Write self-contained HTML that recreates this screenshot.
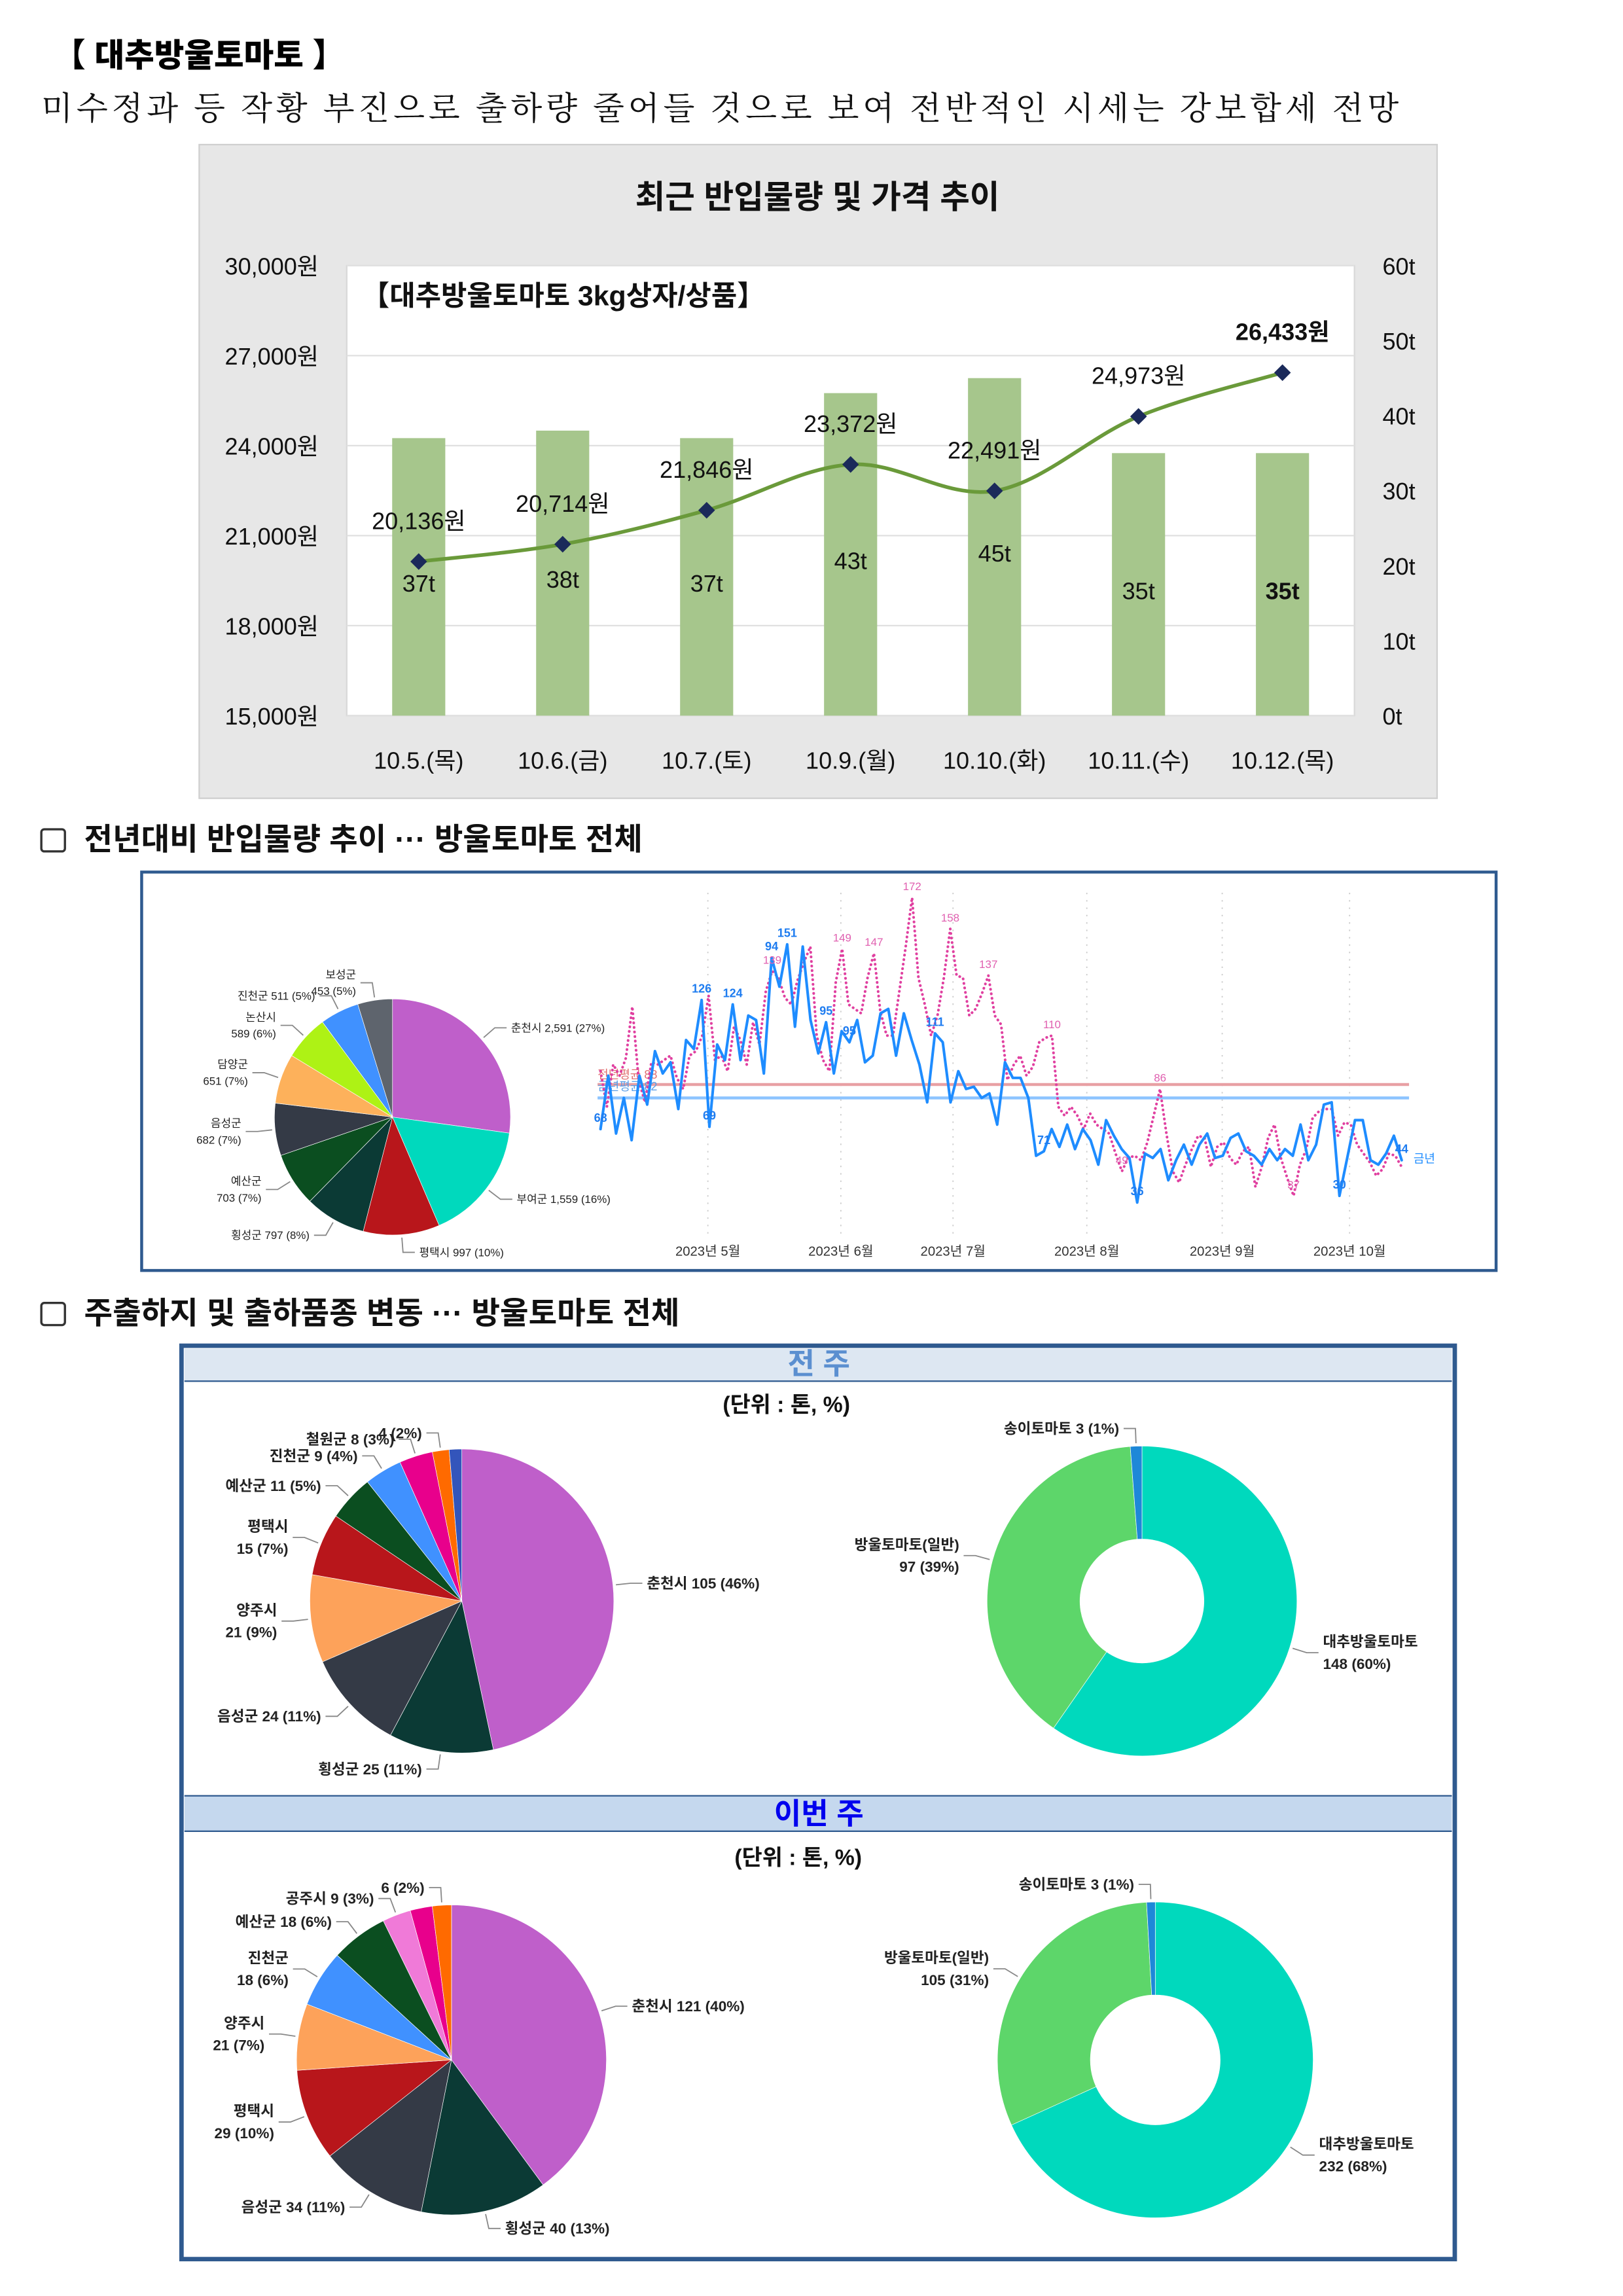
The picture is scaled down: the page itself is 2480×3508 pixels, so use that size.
<!DOCTYPE html>
<html><head><meta charset="utf-8"><style>
html,body{margin:0;padding:0;background:#fff}
svg{display:block}
text{font-family:"Liberation Sans","Noto Sans CJK KR",sans-serif}
.serif{font-family:"Liberation Serif","Noto Serif CJK SC",serif}
</style></head><body>
<svg id="page" xmlns="http://www.w3.org/2000/svg" width="2480" height="3508" viewBox="0 0 1100 1556">
<rect x="0" y="0" width="1100" height="1556" fill="#fff"/>
<text x="36" y="45" font-size="22" font-weight="900" fill="#000">【 대추방울토마토 】</text>
<text class="serif" x="28" y="81" font-size="22" fill="#111" textLength="920" lengthAdjust="spacing">미수정과 등 작황 부진으로 출하량 줄어들 것으로 보여 전반적인 시세는 강보합세 전망</text>

<g id="chart1">
<rect x="135" y="98" width="839" height="443" fill="#e7e7e7" stroke="#cfcfcf"/>
<text x="554" y="141" text-anchor="middle" font-size="22" font-weight="700" fill="#111">최근 반입물량 및 가격 추이</text>
<rect x="235" y="180" width="683" height="305" fill="#fff" stroke="#d9d9d9"/>
<text x="245" y="207" font-size="19" font-weight="700" fill="#111">【대추방울토마토 3kg상자/상품】</text>
</g>

<rect x="28" y="562" width="16" height="15" rx="2" fill="#fff" stroke="#333" stroke-width="1.5"/>
<text x="57" y="576" font-size="21" font-weight="700" fill="#111">전년대비 반입물량 추이 ··· 방울토마토 전체</text>
<rect x="96" y="591" width="918" height="270" fill="#fff" stroke="#2f5a8f" stroke-width="2"/>
<g id="pie1"></g>
<g id="line2"></g>

<rect x="28" y="883" width="16" height="15" rx="2" fill="#fff" stroke="#333" stroke-width="1.5"/>
<text x="57" y="897" font-size="21" font-weight="700" fill="#111">주출하지 및 출하품종 변동 ··· 방울토마토 전체</text>
<rect x="123" y="912" width="863" height="619" fill="#fff" stroke="#2f5a8f" stroke-width="3"/>
<rect x="125" y="914" width="859" height="22" fill="#dde7f2"/>
<line x1="125" y1="936" x2="984" y2="936" stroke="#2f5a8f" stroke-width="1"/>
<text x="555" y="931" text-anchor="middle" font-size="20" font-weight="700" fill="#5b8fd0">전 주</text>
<text x="533" y="957" text-anchor="middle" font-size="15" font-weight="700" fill="#111">(단위 : 톤, %)</text>
<rect x="125" y="1217" width="859" height="24" fill="#c5d8ee"/>
<line x1="125" y1="1217" x2="984" y2="1217" stroke="#2f5a8f" stroke-width="1"/>
<line x1="125" y1="1241" x2="984" y2="1241" stroke="#2f5a8f" stroke-width="1"/>
<text x="555" y="1236" text-anchor="middle" font-size="20" font-weight="700" fill="#0000ee">이번 주</text>
<text x="541" y="1264" text-anchor="middle" font-size="15" font-weight="700" fill="#111">(단위 : 톤, %)</text>
<g id="pie2"></g>
<g id="pie3"></g>
<g id="donut1"></g>
<g id="donut2"></g>
</svg>
<script>
// ---- chart 1 data ----
const c1Categories = ["10.5.(목)","10.6.(금)","10.7.(토)","10.9.(월)","10.10.(화)","10.11.(수)","10.12.(목)"];
const c1Volume = [37,38,37,43,45,35,35];
const c1Price = [20136,20714,21846,23372,22491,24973,26433];
const c1LeftTicks = [15000,18000,21000,24000,27000,30000];
const c1RightTicks = [0,10,20,30,40,50,60];

// ---- pie 1 data ----
const p1Names = ["춘천시","부여군","평택시","횡성군","예산군","음성군","담양군","논산시","진천군","보성군"];
const p1Values = [2591,1559,997,797,703,682,651,589,511,453];
const p1Labels = [["춘천시 2,591 (27%)"],["부여군 1,559 (16%)"],["평택시 997 (10%)"],["횡성군 797 (8%)"],["예산군","703 (7%)"],["음성군","682 (7%)"],["담양군","651 (7%)"],["논산시","589 (6%)"],["진천군 511 (5%)"],["보성군","453 (5%)"]];

// ---- line chart data (daily arrivals, t) ----
const thisYear = [68,92,66,82,63,92,79,103,93,98,77,108,104,126,69,106,99,124,99,119,117,93,145,132,151,114,150,117,102,116,93,112,107,117,98,101,120,122,101,120,108,97,80,111,107,80,94,86,87,82,84,70,98,91,91,82,56,58,68,60,70,59,68,63,52,72,65,59,55,35,57,55,59,45,54,61,52,61,66,55,56,64,66,58,56,52,59,54,59,56,70,54,61,79,80,38,55,72,72,54,52,57,65,54];
const lastYear = [94,78,97,92,100,123,90,80,98,97,99,101,91,86,101,103,110,128,99,101,94,114,108,97,116,106,130,139,136,127,124,135,143,150,110,99,94,134,149,124,122,120,136,147,121,110,110,130,150,172,136,124,110,119,136,158,137,136,119,122,129,137,119,115,90,97,101,92,96,107,109,110,78,74,78,74,68,75,70,68,66,57,49,55,56,54,62,74,86,66,49,44,52,59,65,64,51,60,62,55,52,58,60,42,51,64,70,55,46,38,52,59,73,76,77,77,65,71,70,61,57,53,47,50,57,56,51];
const avgLast = 88, avgThis = 82;
const monthLabels = ["2023년 5월","2023년 6월","2023년 7월","2023년 8월","2023년 9월","2023년 10월"];
const monthPos = [0.134,0.3,0.44,0.607,0.776,0.935];
const thisLabelIdx = [0,13,14,17,22,24,29,32,43,57,69,95,103];
const thisLabelTxt = ["68","126","69","124","94","151","95","95","111","71","36","30","44"];
const lastLabelIdx = [27,38,43,49,55,61,71,82,88,109];
const lastLabelTxt = ["139","149","147","172","158","137","110","49","86","37"];

// ---- section 3 data ----
const p2Values = [105,25,24,21,15,11,9,8,4,3];
const p2Labels = ["춘천시 105 (46%)","횡성군 25 (11%)","음성군 24 (11%)","양주시|21 (9%)","평택시|15 (7%)","예산군 11 (5%)","진천군 9 (4%)","철원군 8 (3%)","4 (2%)",""];
const p3Values = [121,40,34,29,21,18,18,9,7,6];
const p3Labels = ["춘천시 121 (40%)","횡성군 40 (13%)","음성군 34 (11%)","평택시|29 (10%)","양주시|21 (7%)","진천군|18 (6%)","예산군 18 (6%)","공주시 9 (3%)","","6 (2%)"];
const d1Values = [148,97,3];
const d2Values = [232,105,3];
const dNames = ["대추방울토마토","방울토마토(일반)","송이토마토"];
const d1Labels = ["148 (60%)","97 (39%)","3 (1%)"];
const d2Labels = ["232 (68%)","105 (31%)","3 (1%)"];

const NS="http://www.w3.org/2000/svg";
function mk(parent,tag,attrs,txt){const e=document.createElementNS(NS,tag);for(const k in attrs)e.setAttribute(k,attrs[k]);if(txt!==undefined)e.textContent=txt;parent.appendChild(e);return e;}

// ---- chart 1 ----
(function(){
 const g=document.getElementById('chart1');
 const x0=235,x1=918,y0=485,y1=180;
 const yL=v=>y0-(v-15000)/15000*(y0-y1);
 const yR=v=>y0-v/60*(y0-y1);
 const step=(x1-x0)/c1Categories.length;
 const xc=i=>x0+step*(i+0.5);
 c1LeftTicks.forEach(t=>{
  const gl=mk(g,'line',{x1:x0,x2:x1,y1:yL(t),y2:yL(t),stroke:'#e0e0e0','stroke-width':1});
  
  const tl=mk(g,'text',{x:216,y:yL(t)+6,'text-anchor':'end','font-size':16,fill:'#111'},t.toLocaleString('en-US')+'원');
  
 });
 c1RightTicks.forEach(t=>{
  const tl=mk(g,'text',{x:937,y:yR(t)+6,'font-size':16,fill:'#111'},t+'t');
  
 });
 c1Categories.forEach((c,i)=>{
  const b=mk(g,'rect',{x:xc(i)-18,y:yR(c1Volume[i]),width:36,height:y0-yR(c1Volume[i]),fill:'#a6c68c'});
  
  const xl=mk(g,'text',{x:xc(i),y:521,'text-anchor':'middle','font-size':16,fill:'#111'},c);
  
 });
 let d='';
 const pts=c1Price.map((p,i)=>[xc(i),yL(p)]);
 pts.forEach((p,i)=>{
  if(i===0){d+='M'+p[0]+' '+p[1];return;}
  const a=pts[Math.max(0,i-2)],b=pts[i-1],c=p,e=pts[Math.min(pts.length-1,i+1)];
  const t=0.17;
  d+=' C'+(b[0]+(c[0]-a[0])*t)+' '+(b[1]+(c[1]-a[1])*t)+' '+(c[0]-(e[0]-b[0])*t)+' '+(c[1]-(e[1]-b[1])*t)+' '+c[0]+' '+c[1];
 });
 const ln=mk(g,'path',{d:d,fill:'none',stroke:'#6a9a3a','stroke-width':2.5});
 
 pts.forEach((p,i)=>{
  const m=mk(g,'rect',{x:p[0]-4,y:p[1]-4,width:8,height:8,fill:'#1b2a5a',transform:'rotate(45 '+p[0]+' '+p[1]+')'});
  
  const last=i===pts.length-1;
  const pl=mk(g,'text',{x:p[0],y:p[1]-22,'text-anchor':'middle','font-size':16,'font-weight':last?700:400,fill:'#111'},c1Price[i].toLocaleString('en-US')+'원');
  
  const vl=mk(g,'text',{x:p[0],y:(yR(c1Volume[i])+y0)/2+10,'text-anchor':'middle','font-size':16,'font-weight':last?700:400,fill:'#111'},c1Volume[i]+'t');
  
 });
})();

// ---- pie helpers ----
function arcPath(cx,cy,r,ri,a0,a1){
 const large=(a1-a0)>Math.PI?1:0;
 const P=(rr,a)=>[cx+rr*Math.sin(a),cy-rr*Math.cos(a)];
 const s=P(r,a0),e=P(r,a1);
 if(ri>0){const si=P(ri,a1),ei=P(ri,a0);
  return 'M'+s+' A'+r+' '+r+' 0 '+large+' 1 '+e+' L'+si+' A'+ri+' '+ri+' 0 '+large+' 0 '+ei+' Z';}
 return 'M'+cx+' '+cy+' L'+s+' A'+r+' '+r+' 0 '+large+' 1 '+e+' Z';
}
function drawPie(gid,cx,cy,r,ri,values,colors,labels,fs,bold){
 const g=document.getElementById(gid);
 const tot=values.reduce((a,b)=>a+b,0);
 let a=0;
 values.forEach((v,i)=>{
  const a1=a+v/tot*Math.PI*2;
  const p=mk(g,'path',{d:arcPath(cx,cy,r,ri,a,a1),fill:colors[i],stroke:'#fff','stroke-width':0.3});
  
  const lb=labels[i];
  if(lb){
   const m=(a+a1)/2;
   const sx=cx+(r+2)*Math.sin(m),sy=cy-(r+2)*Math.cos(m);
   const ex=cx+(r+12)*Math.sin(m),ey=cy-(r+12)*Math.cos(m);
   const right=Math.sin(m)>=0;
   const hx=ex+(right?8:-8);
   const ll=mk(g,'polyline',{points:sx+','+sy+' '+ex+','+ey+' '+hx+','+ey,fill:'none',stroke:'#888','stroke-width':0.8});
   
   const lines=lb.split('|');
   lines.forEach((t,k)=>{
    const tx=mk(g,'text',{x:hx+(right?3:-3),y:ey+fs*0.35+(k-(lines.length-1)/2)*fs*1.5,'text-anchor':right?'start':'end','font-size':fs,'font-weight':bold?700:400,fill:'#222'},t);
    
   });
  }
  a=a1;
 });
}
drawPie('pie1',266,757,80,0,p1Values,['#bf5fca','#00d9bd','#b8161b','#0b3a35','#0b4e20','#343a46','#fdb15b','#aef215','#4091ff','#5e646d'],p1Labels.map(l=>l.join('|')),7.5,false);
drawPie('pie2',313,1085,103,0,p2Values,['#bf5fca','#0b3a35','#343a46','#fda25a','#b8161b','#0b4e20','#4091ff','#e8008c','#ff6a00','#3355bb'],p2Labels,10,true);
drawPie('pie3',306,1396,105,0,p3Values,['#bf5fca','#0b3a35','#343a46','#b8161b','#fda25a','#4091ff','#0b4e20','#f07ad8','#e8008c','#ff6a00'],p3Labels,10,true);
drawPie('donut1',774,1085,105,42,d1Values,['#00d9bd','#5dd66a','#1e88d8'],d1Values.map((v,i)=>dNames[i]+(i===2?' ':'|')+d1Labels[i]),10,true);
drawPie('donut2',783,1396,107,44,d2Values,['#00d9bd','#5dd66a','#1e88d8'],d2Values.map((v,i)=>dNames[i]+(i===2?' ':'|')+d2Labels[i]),10,true);

// ---- line chart ----
(function(){
 const g=document.getElementById('line2');
 const x0=407,x1=950;
 const y=v=>735-(v-88)*1.508;
 monthLabels.forEach((m,i)=>{
  const x=x0+(x1-x0)*monthPos[i];
  const gl=mk(g,'line',{x1:x,x2:x,y1:605,y2:838,stroke:'#ccc','stroke-width':0.8,'stroke-dasharray':'1 4'});
  
  const t=mk(g,'text',{x:x,y:851,'text-anchor':'middle','font-size':9,fill:'#333'},m);
  
 });
 const r1=mk(g,'line',{x1:405,x2:955,y1:y(avgLast),y2:y(avgLast),stroke:'#e8a0a4','stroke-width':2});
 
 const r2=mk(g,'line',{x1:405,x2:955,y1:y(avgThis),y2:y(avgThis),stroke:'#8cc4ff','stroke-width':2});
 
 const t1=mk(g,'text',{x:405,y:y(avgLast)-4,'font-size':8,fill:'#e07070'},'전년평균 '+avgLast);
 
 const t2=mk(g,'text',{x:405,y:y(avgThis)-5,'font-size':8,fill:'#5a9ee8'},'금년평균 '+avgThis);
 
 function series(arr,color,dash,w,name){
  const sx=i=>x0+(x1-x0)*i/(arr.length-1);
  const p=mk(g,'polyline',{points:arr.map((v,i)=>sx(i)+','+y(v)).join(' '),fill:'none',stroke:color,'stroke-width':w,'stroke-dasharray':dash,'stroke-linecap':'round','stroke-linejoin':'round'});
  
  return sx;
 }
 const sxL=series(lastYear,'#e040a0','0.1 3',1.8,'last-year-line');
 const sxT=series(thisYear,'#1e8cff','',1.8,'this-year-line');
 lastLabelIdx.forEach((idx,k)=>{
  const t=mk(g,'text',{x:sxL(idx),y:y(lastYear[idx])-5,'text-anchor':'middle','font-size':7.5,fill:'#e060b0'},lastLabelTxt[k]);
  
 });
 thisLabelIdx.forEach((idx,k)=>{
  const t=mk(g,'text',{x:sxT(idx),y:y(thisYear[idx])-5,'text-anchor':'middle','font-size':8,'font-weight':700,fill:'#1e7cf0'},thisLabelTxt[k]);
  
 });
 const lg=mk(g,'text',{x:958,y:788,'font-size':8,fill:'#1e8cff'},'금년');
 
})();
</script>
</body></html>
